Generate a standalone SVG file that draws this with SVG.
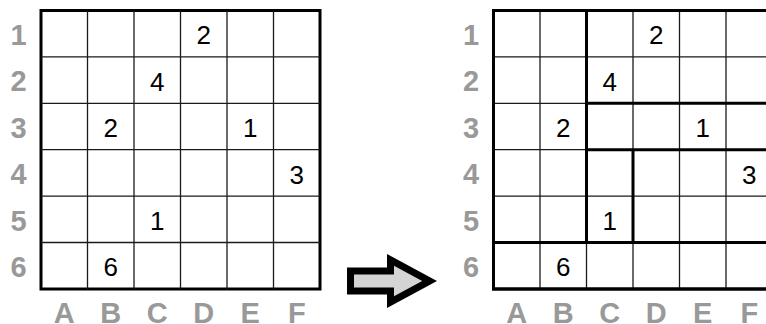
<svg xmlns="http://www.w3.org/2000/svg" width="766" height="324" viewBox="0 0 766 324">
<style>
.thin{stroke:#1a1a1a;stroke-width:1.3;fill:none}
.thick{stroke:#000;stroke-width:3;fill:none;stroke-linecap:square}
.border{stroke:#000;stroke-width:3;fill:#fff}
.lbl{font-family:"Liberation Sans",Arial,sans-serif;font-weight:bold;font-size:29px;fill:#999;text-anchor:middle}
.num{font-family:"Liberation Sans",Arial,sans-serif;font-size:26px;fill:#000;text-anchor:middle}
</style>
<defs>
<g id="gridlines">
<rect class="border" x="0" y="0" width="279" height="278.5"/>
<path class="thin" d="M46.5,0V278.5M93,0V278.5M139.5,0V278.5M186,0V278.5M232.5,0V278.5M0,46.4H279M0,92.8H279M0,139.2H279M0,185.6H279M0,232H279"/>
</g>
<g id="nums">
<text class="num" x="162.75" y="33.9">2</text>
<text class="num" x="116.25" y="80.3">4</text>
<text class="num" x="69.75" y="126.7">2</text>
<text class="num" x="209.25" y="126.7">1</text>
<text class="num" x="255.75" y="173.1">3</text>
<text class="num" x="116.25" y="219.5">1</text>
<text class="num" x="69.75" y="265.9">6</text>
</g>
<g id="labels">
<text class="lbl" x="-22.5" y="34.5">1</text>
<text class="lbl" x="-22.5" y="80.9">2</text>
<text class="lbl" x="-22.5" y="127.3">3</text>
<text class="lbl" x="-22.5" y="173.7">4</text>
<text class="lbl" x="-22.5" y="220.1">5</text>
<text class="lbl" x="-22.5" y="266.5">6</text>
<text class="lbl" x="23.25" y="312">A</text>
<text class="lbl" x="69.75" y="312">B</text>
<text class="lbl" x="116.25" y="312">C</text>
<text class="lbl" x="162.75" y="312">D</text>
<text class="lbl" x="209.25" y="312">E</text>
<text class="lbl" x="255.75" y="312">F</text>
</g>
</defs>
<g id="puzzle" transform="translate(41,10.5)">
<use href="#gridlines"/>
<use href="#nums"/>
<use href="#labels"/>
</g>
<g id="arrow">
<path fill="#000" d="M347,267.5L387,267.5L387,254L437,281L387,308L387,294.5L347,294.5Z"/>
<path fill="#d4d4d4" d="M354,274.5L394,274.5L394,265.8L422.2,281L394,296.2L394,287.5L354,287.5Z"/>
</g>
<g id="solution" transform="translate(493.5,10.5)">
<use href="#gridlines"/>
<path class="thick" d="M93,0V232M93,92.8H279M93,139.2H279M139.5,139.2V232M0,232H279"/>
<rect x="0" y="0" width="279" height="278.5" fill="none" stroke="#000" stroke-width="3"/>
<use href="#nums"/>
<use href="#labels"/>
</g>
</svg>
